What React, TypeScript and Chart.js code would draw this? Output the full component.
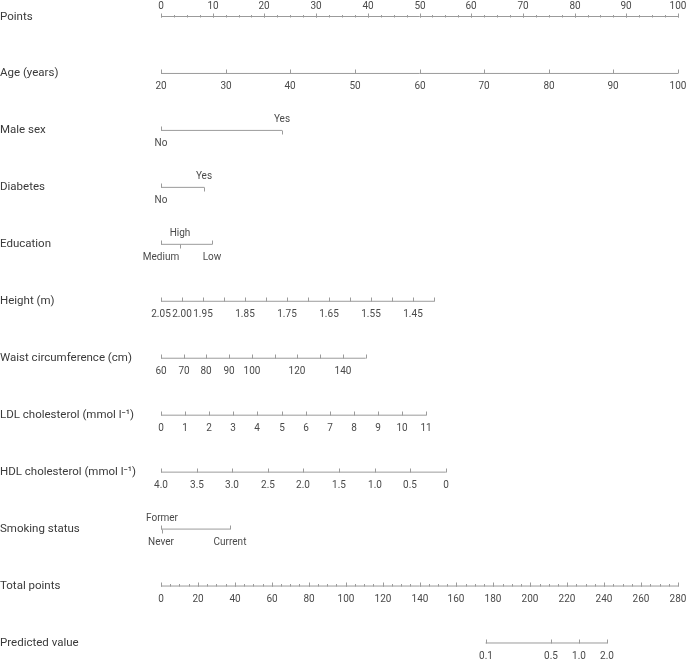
import React, { useEffect, useRef } from "react";
import { Chart, registerables } from "chart.js";
Chart.register(...registerables);

// ---- Data ----
const rowNames = [
  "Points",
  "Age (years)",
  "Male sex",
  "Diabetes",
  "Education",
  "Height (m)",
  "Waist circumference (cm)",
  "LDL cholesterol (mmol l\u207B\u00B9)",
  "HDL cholesterol (mmol l\u207B\u00B9)",
  "Smoking status",
  "Total points",
  "Predicted value",
];

// Points axis
const pointsLabels = [0, 10, 20, 30, 40, 50, 60, 70, 80, 90, 100];
const pointsMinorStep = 2.5;

// Age: 20 -> 0 pts, 100 -> 100 pts
const ageTicks = [20, 30, 40, 50, 60, 70, 80, 90, 100];
const ageAnchors = [20, 100];
const ageAnchorPts = [0, 100];

// Categorical variables
const sexCats = ["No", "Yes"];
const sexPts = [0, 23.4];
const sexSides = ["below", "above"];

const diabetesCats = ["No", "Yes"];
const diabetesPts = [0, 8.4];
const diabetesSides = ["below", "above"];

const educationCats = ["Medium", "High", "Low"];
const educationPts = [0, 3.6, 9.9];
const educationSides = ["below", "above", "below"];

// Height
const heightTicks = [2.05, 2.0, 1.95, 1.9, 1.85, 1.8, 1.75, 1.7, 1.65, 1.6, 1.55, 1.5, 1.45, 1.4];
const heightLabels = ["2.05", "2.00", "1.95", "", "1.85", "", "1.75", "", "1.65", "", "1.55", "", "1.45", ""];
const heightAnchors = [2.05, 1.4];
const heightAnchorPts = [0, 52.9];

// Waist circumference
const waistTicks = [60, 70, 80, 90, 100, 110, 120, 130, 140, 150];
const waistLabels = ["60", "70", "80", "90", "100", "", "120", "", "140", ""];
const waistAnchors = [60, 150];
const waistAnchorPts = [0, 39.6];

// LDL
const ldlTicks = [0, 1, 2, 3, 4, 5, 6, 7, 8, 9, 10, 11];
const ldlAnchors = [0, 11];
const ldlAnchorPts = [0, 51.3];

// HDL
const hdlTicks = [4.0, 3.5, 3.0, 2.5, 2.0, 1.5, 1.0, 0.5, 0];
const hdlLabels = ["4.0", "3.5", "3.0", "2.5", "2.0", "1.5", "1.0", "0.5", "0"];
const hdlAnchors = [4.0, 0];
const hdlAnchorPts = [0, 55.1];

// Smoking
const smokingCats = ["Never", "Former", "Current"];
const smokingPts = [0, 0.25, 13.4];
const smokingSides = ["below", "above", "below"];

// Total points
const totalLabels = [0, 20, 40, 60, 80, 100, 120, 140, 160, 180, 200, 220, 240, 260, 280];
const totalMinorStep = 5;
const totalMax = 280;

// Predicted value (log scale on total points)
const predTicks = [0.1, 0.5, 1.0, 2.0];
const predLabels = ["0.1", "0.5", "1.0", "2.0"];
const predAnchors = [0.1, 2.0];
const predAnchorTotal = [175.8, 241.7];

// ---- Helpers ----
const lin = (a: number[], p: number[]) => (v: number) =>
  p[0] + ((v - a[0]) / (a[1] - a[0])) * (p[1] - p[0]);
const totalToPts = (t: number) => (t / totalMax) * 100;
const predToPts = (v: number) => {
  const l0 = Math.log10(predAnchors[0]);
  const l1 = Math.log10(predAnchors[1]);
  const t = predAnchorTotal[0] + ((Math.log10(v) - l0) / (l1 - l0)) * (predAnchorTotal[1] - predAnchorTotal[0]);
  return totalToPts(t);
};
const range = (a: number, b: number, s: number) => {
  const r: number[] = [];
  for (let v = a; v <= b + 1e-9; v += s) r.push(v);
  return r;
};

type Row =
  | {
      kind: "cont";
      ticks: number[];
      labels: string[];
      minor?: number[];
      toPts: (v: number) => number;
      side: "above" | "below";
    }
  | { kind: "cat"; cats: string[]; pts: number[]; sides: string[] };

const rows: Row[] = [
  {
    kind: "cont",
    ticks: pointsLabels,
    labels: pointsLabels.map(String),
    minor: range(0, 100, pointsMinorStep),
    toPts: (v) => v,
    side: "above",
  },
  { kind: "cont", ticks: ageTicks, labels: ageTicks.map(String), toPts: lin(ageAnchors, ageAnchorPts), side: "below" },
  { kind: "cat", cats: sexCats, pts: sexPts, sides: sexSides },
  { kind: "cat", cats: diabetesCats, pts: diabetesPts, sides: diabetesSides },
  { kind: "cat", cats: educationCats, pts: educationPts, sides: educationSides },
  { kind: "cont", ticks: heightTicks, labels: heightLabels, toPts: lin(heightAnchors, heightAnchorPts), side: "below" },
  { kind: "cont", ticks: waistTicks, labels: waistLabels, toPts: lin(waistAnchors, waistAnchorPts), side: "below" },
  { kind: "cont", ticks: ldlTicks, labels: ldlTicks.map(String), toPts: lin(ldlAnchors, ldlAnchorPts), side: "below" },
  { kind: "cont", ticks: hdlTicks, labels: hdlLabels, toPts: lin(hdlAnchors, hdlAnchorPts), side: "below" },
  { kind: "cat", cats: smokingCats, pts: smokingPts, sides: smokingSides },
  {
    kind: "cont",
    ticks: totalLabels,
    labels: totalLabels.map(String),
    minor: range(0, totalMax, totalMinorStep),
    toPts: totalToPts,
    side: "below",
  },
  { kind: "cont", ticks: predTicks, labels: predLabels, toPts: predToPts, side: "below" },
];

const rowExtent = (r: Row): [number, number] => {
  const ps = r.kind === "cont" ? r.ticks.map(r.toPts) : r.pts;
  return [Math.min(...ps), Math.max(...ps)];
};

const LINE = "#9b9b9b";
const TEXT = "#3a3a3a";
const TICKTEXT = "#4a4a4a";
const FONT = "Roboto, 'Noto Sans', sans-serif";

const nomogramPlugin = {
  id: "nomogram",
  afterDatasetsDraw(chart: any) {
    const ctx = chart.ctx as CanvasRenderingContext2D;
    const xs = chart.scales.x;
    const ys = chart.scales.y;
    ctx.save();
    ctx.lineWidth = 1;
    ctx.strokeStyle = LINE;
    rows.forEach((r, i) => {
      const y = Math.round(ys.getPixelForValue(i)) + 0.5;
      // row label
      ctx.fillStyle = TEXT;
      ctx.font = `11.5px ${FONT}`;
      ctx.textAlign = "left";
      ctx.textBaseline = "middle";
      ctx.fillText(rowNames[i], 0, y);

      ctx.font = `10px ${FONT}`;
      ctx.fillStyle = TICKTEXT;
      ctx.textAlign = "center";
      const tick = (p: number, dir: number, len: number) => {
        const x = Math.round(xs.getPixelForValue(p)) + 0.5;
        ctx.beginPath();
        ctx.moveTo(x, y);
        ctx.lineTo(x, y + dir * len);
        ctx.stroke();
        return x;
      };
      if (r.kind === "cont") {
        if (r.minor) r.minor.forEach((v) => tick(r.toPts(v), -1, 2.5));
        r.ticks.forEach((v, k) => {
          const x = tick(r.toPts(v), -1, 4);
          const lab = r.labels[k];
          if (lab) ctx.fillText(lab, x - 0.5, r.side === "above" ? y - 11 : y + 12.5);
        });
      } else {
        r.cats.forEach((c, k) => {
          const above = r.sides[k] === "above";
          const x = tick(r.pts[k], above ? 1 : -1, 4);
          ctx.fillText(c, x - 0.5, above ? y - 11.5 : y + 12.5);
        });
      }
    });
    ctx.restore();
  },
};

export default function App() {
  const ref = useRef<HTMLCanvasElement | null>(null);
  useEffect(() => {
    if (!ref.current) return;
    const datasets = rows.map((r, i) => {
      const [a, b] = rowExtent(r);
      return {
        label: rowNames[i],
        data: [
          { x: a, y: i },
          { x: b, y: i },
        ],
        borderColor: LINE,
        borderWidth: 1,
        pointRadius: 0,
        fill: false,
      };
    });
    const unit = 626 / 11;
    const chart = new Chart(ref.current, {
      type: "line",
      data: { datasets },
      options: {
        animation: false,
        responsive: false,
        layout: { padding: { left: 161, right: 9, top: 0, bottom: 0 } },
        plugins: { legend: { display: false }, tooltip: { enabled: false } },
        scales: {
          x: { type: "linear", min: 0, max: 100, display: false },
          y: {
            type: "linear",
            reverse: true,
            min: -16.5 / unit,
            max: 11 + 17 / unit,
            display: false,
          },
        },
      },
      plugins: [nomogramPlugin],
    });
    return () => chart.destroy();
  }, []);
  return (
    <div style={{ position: "fixed", left: 0, top: 0, width: 687, height: 660, background: "#fff" }}>
      <canvas ref={ref} width={687} height={660} style={{ display: "block" }} />
    </div>
  );
}
